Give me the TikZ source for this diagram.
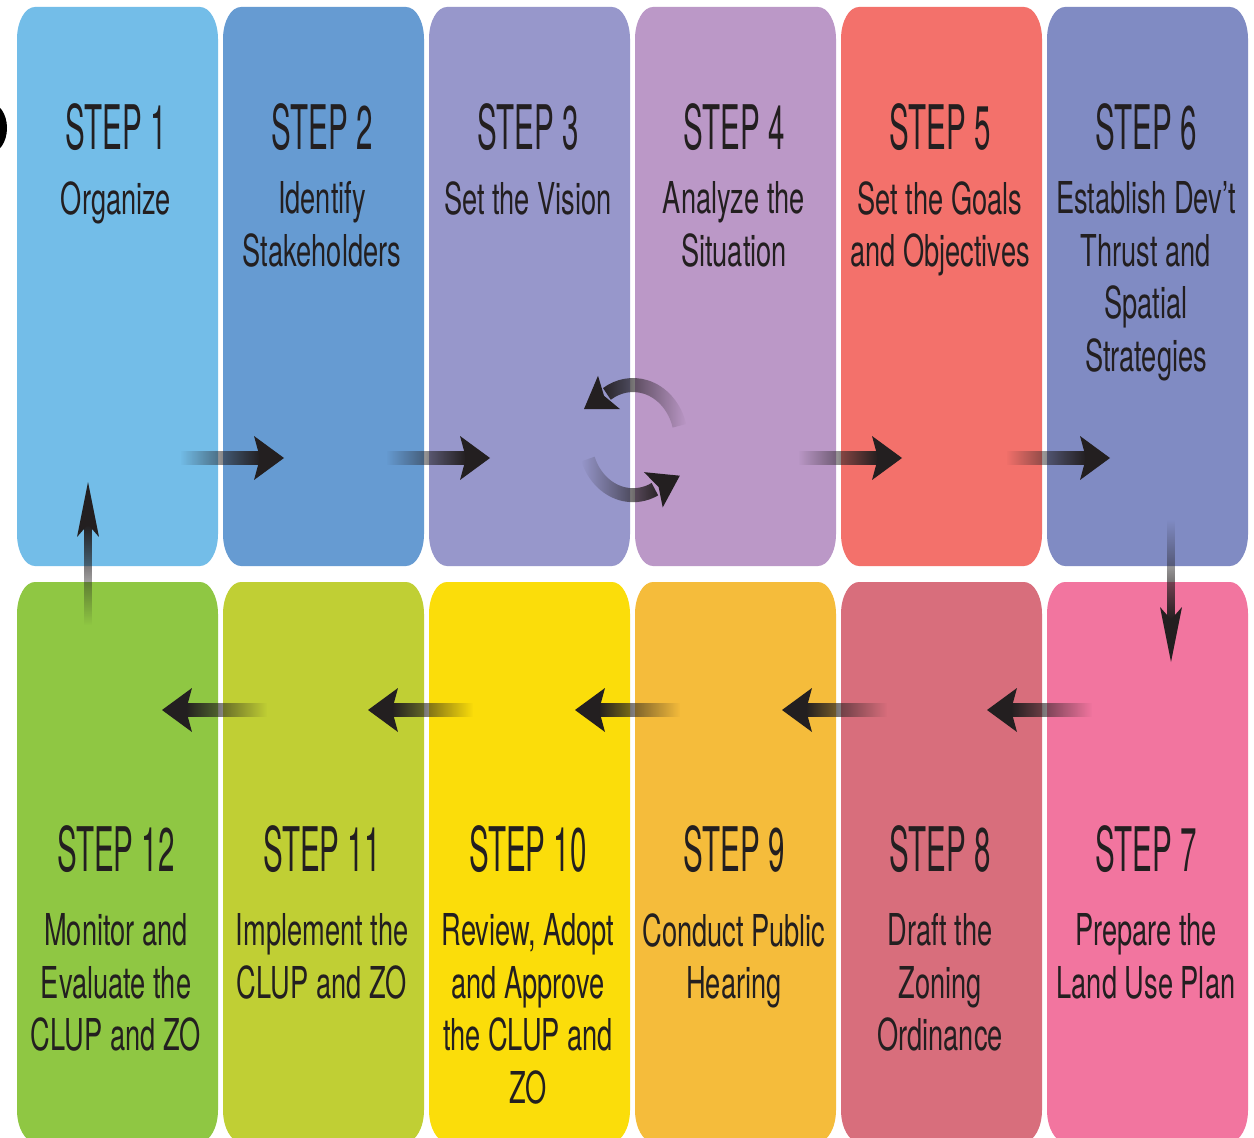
\documentclass[tikz,border=0pt]{standalone}
\usepackage{fontspec}
\usetikzlibrary{calc,fadings}

\newfontfamily\stepfont{TeX Gyre Heros}[FakeStretch=0.48]
\newfontfamily\taskfont{TeX Gyre Heros}[FakeStretch=0.62]

\definecolor{ink}{HTML}{231F20}
\definecolor{st1}{HTML}{73BDE8}
\definecolor{st2}{HTML}{669BD2}
\definecolor{st3}{HTML}{9797CB}
\definecolor{st4}{HTML}{BB98C7}
\definecolor{st5}{HTML}{F3716B}
\definecolor{st6}{HTML}{808BC3}
\definecolor{st7}{HTML}{F2759F}
\definecolor{st8}{HTML}{D86E7C}
\definecolor{st9}{HTML}{F5BC3B}
\definecolor{st10}{HTML}{FBDD0A}
\definecolor{st11}{HTML}{C0CF34}
\definecolor{st12}{HTML}{8FC743}

% shafts fade in from the tail
\tikzfading[name=toRight, left color=transparent!100, right color=transparent!0]
\tikzfading[name=toLeft, left color=transparent!0, right color=transparent!100]
\tikzfading[name=toUp, top color=transparent!0, bottom color=transparent!100]
\tikzfading[name=toDown, top color=transparent!100, bottom color=transparent!0]

% panel with oval corners: left, top, right, bottom, colour
\newcommand{\stepplate}[5]{%
  \fill[#5] (#1,#2+32) arc[start angle=180,end angle=270,x radius=18,y radius=32]
    -- (#3-18,#2) arc[start angle=270,end angle=360,x radius=18,y radius=32]
    -- (#3,#4-32) arc[start angle=0,end angle=90,x radius=18,y radius=32]
    -- (#1+18,#4) arc[start angle=90,end angle=180,x radius=18,y radius=32] -- cycle;}

% head: from, tip, length, notch, half width
\newcommand{\flowhead}[5]{%
  \coordinate (hb) at ($(#2)!#3!(#1)$);
  \coordinate (hn) at ($(#2)!#4!(#1)$);
  \fill[ink] (#2) -- ($(hb)!#5!90:(#2)$) -- (hn) -- ($(hb)!#5!-90:(#2)$) -- cycle;}

% arrow: fading, tail, tip, half shaft, head length, notch, half head
\newcommand{\flowarrow}[7]{%
  \coordinate (sn) at ($(#3)!#6!(#2)$);
  \fill[ink,path fading=#1] ($(#2)!#4!90:(sn)$) -- ($(sn)!#4!-90:(#2)$)
    -- ($(sn)!#4!90:(#2)$) -- ($(#2)!#4!-90:(sn)$) -- cycle;
  \flowhead{#2}{#3}{#5}{#6}{#7}}

\begin{document}
\begin{tikzpicture}[x=0.02cm,y=-0.02cm,
  steplabel/.style={font=\stepfont\fontsize{35}{40}\selectfont,text=ink,inner sep=0pt,anchor=base},
  tasklabel/.style={font=\taskfont\fontsize{25}{30}\selectfont,text=ink,inner sep=0pt,anchor=north,align=center}]
  \clip (0,0) rectangle (1254,1138);
  \fill[white] (0,0) rectangle (1254,1138);
  \fill[black] (-10,128) ellipse[x radius=17,y radius=25];

  % upper row steps 1-6, lower row steps 12-7
  \foreach \k/\up/\low in {0/1/12,1/2/11,2/3/10,3/4/9,4/5/8,5/6/7}{
    \pgfmathsetmacro\lft{17+206*\k}
    \pgfmathsetmacro\rgt{\lft+201}
    \stepplate{\lft}{7}{\rgt}{566}{st\up}
    \stepplate{\lft}{582}{\rgt}{1142}{st\low}
  }

  \foreach \k/\n/\txt in {0/1/{Organize},
      1/2/{Identify\\Stakeholders},
      2/3/{Set the Vision},
      3/4/{Analyze the\\Situation},
      4/5/{Set the Goals\\and Objectives},
      5/6/{Establish Dev’t\\Thrust and\\Spatial\\Strategies}}{
    \node[steplabel] (step\n) at (116+206*\k,150) {STEP \n};
    \node[tasklabel] (task\n) at (116+206*\k,181) {\txt};
  }
  \foreach \k/\n/\txt in {0/12/{Monitor and\\Evaluate the\\CLUP and ZO},
      1/11/{Implement the\\CLUP and ZO},
      2/10/{Review, Adopt\\and Approve\\the CLUP and\\ZO},
      3/9/{Conduct Public\\Hearing},
      4/8/{Draft the\\Zoning\\Ordinance},
      5/7/{Prepare the\\Land Use Plan}}{
    \node[steplabel] (step\n) at (116+206*\k,871) {STEP \n};
    \node[tasklabel] (task\n) at (116+206*\k,913) {\txt};
  }

  % upper row, left to right
  \foreach \x in {284,490,902,1110}{
    \coordinate (tl) at (\x-104,458);
    \coordinate (hd) at (\x,458);
    \flowarrow{toRight}{tl}{hd}{0.14cm}{0.6cm}{0.48cm}{0.44cm}
  }
  % lower row, right to left
  \foreach \x in {162,368,575,782,987}{
    \coordinate (tl) at (\x+105,710);
    \coordinate (hd) at (\x,710);
    \flowarrow{toLeft}{tl}{hd}{0.14cm}{0.6cm}{0.48cm}{0.44cm}
  }
  % down from 6 to 7, up from 12 to 1
  \coordinate (down1) at (1171,520);
  \coordinate (down2) at (1171,662);
  \flowarrow{toDown}{down1}{down2}{0.08cm}{1.1cm}{0.85cm}{0.22cm}
  \coordinate (up1) at (88,625);
  \coordinate (up2) at (88,482);
  \flowarrow{toUp}{up1}{up2}{0.08cm}{1.1cm}{0.85cm}{0.22cm}

  % back and forth between 3 and 4
  \draw[ink,line width=0.28cm,path fading=toLeft] (679.4,425.8)
    arc[start angle=-15,end angle=-123,x radius=48,y radius=55];
  \coordinate (back1) at (634,376);
  \coordinate (tip1) at (584,409);
  \flowhead{back1}{tip1}{0.6cm}{0.48cm}{0.4cm}
  \draw[ink,line width=0.28cm,path fading=toRight] (588,459)
    arc[start angle=160,end angle=63,x radius=48,y radius=55];
  \coordinate (back2) at (626.8,503.9);
  \coordinate (tip2) at (679.8,475.7);
  \flowhead{back2}{tip2}{0.6cm}{0.48cm}{0.4cm}
\end{tikzpicture}
\end{document}
